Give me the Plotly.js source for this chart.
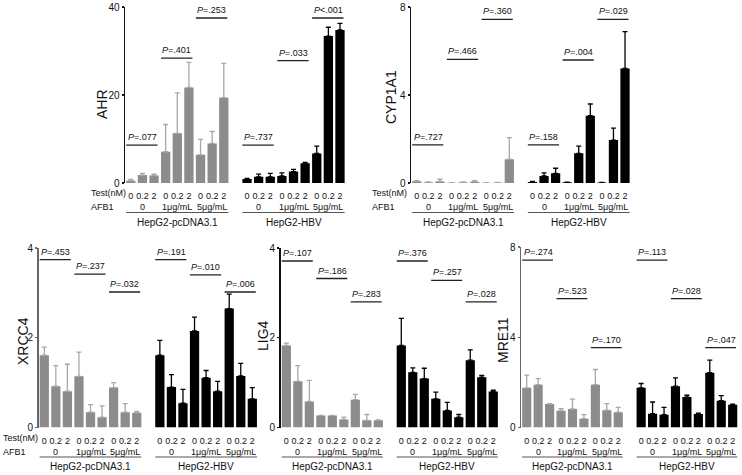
<!DOCTYPE html>
<html>
<head>
<meta charset="utf-8">
<script src="https://cdn.plot.ly/plotly-3.0.1.min.js"></script>
<style>html,body{margin:0;padding:0;background:#fff;}#chart{width:742px;height:475px;}</style>
</head>
<body>
<div id="chart"></div>
<script>
// ---------- data ----------
const graySlots = [0, 1, 2, 3, 4, 5, 6, 7, 8];
const blackSlots = [10, 11, 12, 13, 14, 15, 16, 17, 18];
const testLabels = ["0", "0.2", "2", "0", "0.2", "2", "0", "0.2", "2"];
const afbLabels = ["0", "1μg/mL", "5μg/mL"];
const groupNames = ["HepG2-pcDNA3.1", "HepG2-HBV"];
const pStarts = [0, 3, 6, 10, 13, 16];

const ahrGray = [0.5, 1.8, 1.7, 7.1, 11.3, 21.7, 6.4, 9.0, 19.4];
const ahrGrayErr = [0.3, 0.4, 0.3, 6.2, 9.2, 5.7, 3.5, 2.7, 7.8];
const ahrBlack = [0.9, 1.4, 1.4, 1.6, 2.6, 4.5, 6.7, 33.4, 34.8];
const ahrBlackErr = [0.15, 0.6, 0.8, 0.7, 0.5, 0.2, 1.7, 2.0, 1.5];
const ahrP = ["=.077", "=.401", "=.253", "=.737", "=.033", "<.001"];
const ahrPy = [8.6, 28.4, 37.5, 8.6, 27.8, 37.5];

const cypGray = [0.08, 0.03, 0.07, 0.01, 0.03, 0.06, 0.01, 0.02, 1.08];
const cypGrayErr = [0.03, 0.02, 0.10, 0.01, 0.02, 0.05, 0.01, 0.01, 0.98];
const cypBlack = [0.05, 0.32, 0.44, 0.03, 1.35, 3.06, 0.02, 1.95, 5.21];
const cypBlackErr = [0.02, 0.14, 0.23, 0.01, 0.33, 0.53, 0.01, 0.54, 1.67];
const cypP = ["=.727", "=.466", "=.360", "=.158", "=.004", "=.029"];
const cypPy = [1.73, 5.62, 7.44, 1.73, 5.59, 7.44];

const xrGray = [1.61, 0.92, 0.81, 1.14, 0.34, 0.23, 0.89, 0.34, 0.33];
const xrGrayErr = [0.18, 0.46, 0.60, 0.54, 0.17, 0.25, 0.11, 0.19, 0.03];
const xrBlack = [1.61, 0.90, 0.54, 2.15, 1.11, 0.81, 2.65, 1.15, 0.64];
const xrBlackErr = [0.33, 0.28, 0.31, 0.31, 0.16, 0.22, 0.32, 0.28, 0.25];
const xrP = ["=.453", "=.237", "=.032", "=.191", "=.010", "=.006"];
const xrPy = [3.74, 3.42, 3.02, 3.74, 3.40, 3.02];

const ligGray = [1.83, 1.03, 0.58, 0.27, 0.27, 0.18, 0.62, 0.16, 0.16];
const ligGrayErr = [0.05, 0.35, 0.47, 0.0, 0.0, 0.05, 0.12, 0.13, 0.01];
const ligBlack = [1.83, 1.23, 1.09, 0.64, 0.38, 0.23, 1.50, 1.12, 0.80];
const ligBlackErr = [0.60, 0.10, 0.23, 0.15, 0.18, 0.06, 0.23, 0.04, 0.03];
const ligP = ["=.107", "=.186", "=.283", "=.376", "=.257", "=.028"];
const ligPy = [3.71, 3.32, 2.80, 3.71, 3.28, 2.80];

const mreGray = [1.76, 1.90, 1.04, 0.74, 0.82, 0.39, 1.90, 0.77, 0.68];
const mreGrayErr = [0.56, 0.27, 0.02, 0.09, 0.44, 0.18, 0.67, 0.29, 0.21];
const mreBlack = [1.76, 0.61, 0.57, 1.83, 1.35, 0.60, 2.43, 1.19, 1.01];
const mreBlackErr = [0.19, 0.52, 0.32, 0.37, 0.08, 0.04, 0.56, 0.22, 0.03];
const mreP = ["=.274", "=.523", "=.170", "=.113", "=.028", "=.047"];
const mrePy = [7.42, 5.71, 3.54, 7.42, 5.71, 3.54];

// ---------- layout helpers ----------
const W = 742, H = 475;
const FONT = "Liberation Sans, Arial, sans-serif";
const px = v => v / W;
const py = v => 1 - v / H;

const panels = [
  {name: "AHR", g: ahrGray, ge: ahrGrayErr, b: ahrBlack, be: ahrBlackErr, p: ahrP, pY: ahrPy,
   xd: [125, 345.8], yd: [7, 183], yr: [0, 40], dt: 20, axc: "#111", rowLabels: 89, tx: 102, ty: 104},
  {name: "CYP1A1", g: cypGray, ge: cypGrayErr, b: cypBlack, be: cypBlackErr, p: cypP, pY: cypPy,
   xd: [411, 630.8], yd: [7, 183], yr: [0, 8], dt: 4, axc: "#111", rowLabels: 370, tx: 391, ty: 97},
  {name: "XRCC4", g: xrGray, ge: xrGrayErr, b: xrBlack, be: xrBlackErr, p: xrP, pY: xrPy,
   xd: [38.5, 258.1], yd: [248, 427.5], yr: [0, 4], dt: 2, axc: "#666", rowLabels: 1, tx: 23, ty: 341},
  {name: "LIG4", g: ligGray, ge: ligGrayErr, b: ligBlack, be: ligBlackErr, p: ligP, pY: ligPy,
   xd: [280.6, 499], yd: [248, 427.5], yr: [0, 4], dt: 2, axc: "#111", rowLabels: null, tx: 263, ty: 336},
  {name: "MRE11", g: mreGray, ge: mreGrayErr, b: mreBlack, be: mreBlackErr, p: mreP, pY: mrePy,
   xd: [521, 738.4], yd: [247, 427.5], yr: [0, 8], dt: 4, axc: "#666", rowLabels: null, tx: 503, ty: 340}
];

const traces = [];
const annotations = [];
const shapes = [];
const layout = {
  width: W, height: H,
  margin: {l: 0, r: 0, t: 0, b: 0},
  paper_bgcolor: "#fff", plot_bgcolor: "rgba(0,0,0,0)",
  showlegend: false,
  font: {family: FONT, color: "#111"},
  bargap: 0.2
};

panels.forEach((P, i) => {
  const n = i + 1;
  const xa = "x" + (n === 1 ? "" : n), ya = "y" + (n === 1 ? "" : n);
  const xk = "xaxis" + (n === 1 ? "" : n), yk = "yaxis" + (n === 1 ? "" : n);

  traces.push({
    type: "bar", x: graySlots, y: P.g, xaxis: xa, yaxis: ya, width: 0.8,
    marker: {color: "#8c8c8c", line: {width: 0}},
    error_y: {type: "data", array: P.ge, arrayminus: P.ge.map(() => 0), symmetric: false,
              color: "#a8a8a8", thickness: 1.3, width: 2.5},
    hoverinfo: "skip"
  });
  traces.push({
    type: "bar", x: blackSlots, y: P.b, xaxis: xa, yaxis: ya, width: 0.8,
    marker: {color: "#000", line: {width: 0}},
    error_y: {type: "data", array: P.be, arrayminus: P.be.map(() => 0), symmetric: false,
              color: "#000", thickness: 1.3, width: 2.5},
    hoverinfo: "skip"
  });

  layout[xk] = {
    domain: [px(P.xd[0]), px(P.xd[1])], range: [-0.5, 18.5], anchor: ya,
    showgrid: false, zeroline: false, showline: false, ticks: "",
    tickmode: "array", tickvals: graySlots.concat(blackSlots),
    ticktext: testLabels.concat(testLabels),
    tickfont: {size: 9, family: FONT, color: "#111"},
    ticklabelstandoff: 6, fixedrange: true
  };
  layout[yk] = {
    domain: [py(P.yd[1]), py(P.yd[0])], range: P.yr, anchor: xa,
    showgrid: false, zeroline: false, showline: true, linecolor: P.axc, linewidth: 1.5,
    ticks: "outside", ticklen: 2, tickwidth: 1.2, tickcolor: P.axc,
    dtick: P.dt, tick0: 0, tickfont: {size: 10, family: FONT, color: "#111"},
    ticklabelstandoff: 0, fixedrange: true
  };

  // y axis title
  annotations.push({xref: "paper", yref: "paper", x: px(P.tx), y: py(P.ty), xanchor: "center",
                    yanchor: "middle", textangle: -90, showarrow: false, text: P.name,
                    font: {size: 14, family: FONT, color: "#111"}});

  // p-value brackets
  P.p.forEach((t, k) => {
    const s = pStarts[k];
    shapes.push({type: "line", xref: xa, yref: ya, x0: s - 0.4, x1: s + 2.3, y0: P.pY[k], y1: P.pY[k],
                 line: {color: "#222", width: 1.3}});
    annotations.push({xref: xa, yref: ya, x: s - 0.45, y: P.pY[k], yshift: 1, yanchor: "bottom",
                      xanchor: "left", showarrow: false, text: "<i>P</i>" + t,
                      font: {size: 9, family: FONT, color: "#111"}});
  });

  // AFB1 row and group labels
  const y0 = P.yd[1];
  afbLabels.forEach((t, k) => {
    [1 + 3 * k, 11 + 3 * k].forEach(xv => {
      annotations.push({xref: xa, yref: "paper", x: xv, y: py(y0 + 24), yanchor: "middle",
                        xanchor: "center", showarrow: false, text: t,
                        font: {size: 9, family: FONT, color: "#111"}});
    });
  });
  groupNames.forEach((g, k) => {
    const c = k === 0 ? 4 : 14;
    shapes.push({type: "line", xref: xa, yref: "paper", x0: c - 4.4, x1: c + 4.4,
                 y0: py(y0 + 29.5), y1: py(y0 + 29.5), line: {color: "#555", width: 1.2}});
    annotations.push({xref: xa, yref: "paper", x: c, y: py(y0 + 39), yanchor: "middle",
                      xanchor: "center", showarrow: false, text: g,
                      font: {size: 10, family: FONT, color: "#111"}});
  });
  if (P.rowLabels !== null) {
    annotations.push({xref: "paper", yref: "paper", x: px(P.rowLabels), y: py(y0 + 10), xanchor: "left",
                      yanchor: "middle", showarrow: false, text: "Test(nM)",
                      font: {size: 9, family: FONT, color: "#111"}});
    annotations.push({xref: "paper", yref: "paper", x: px(P.rowLabels), y: py(y0 + 24), xanchor: "left",
                      yanchor: "middle", showarrow: false, text: "AFB1",
                      font: {size: 9, family: FONT, color: "#111"}});
  }
});

layout.annotations = annotations;
layout.shapes = shapes;

Plotly.newPlot("chart", traces, layout, {staticPlot: true, displayModeBar: false});
</script>
</body>
</html>
